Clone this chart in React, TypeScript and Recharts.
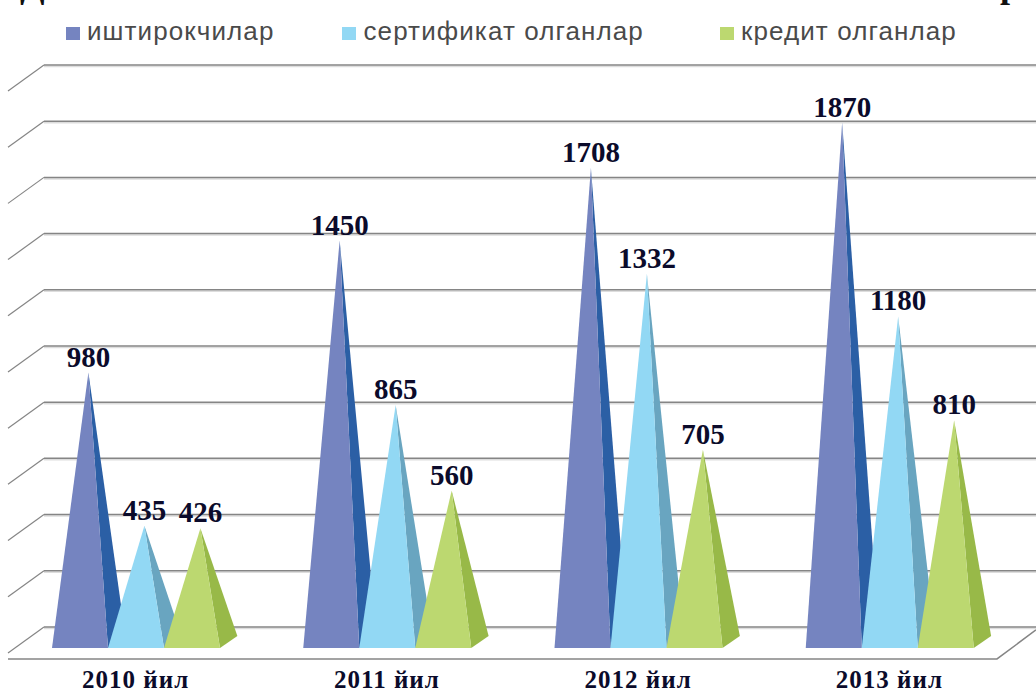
import React from 'react';
import { BarChart, Bar, CartesianGrid, XAxis, YAxis, Legend, LabelList, ReferenceLine } from 'recharts';

const years = ['2010 йил', '2011 йил', '2012 йил', '2013 йил'];
const participants = [980, 1450, 1708, 1870];
const certified = [435, 865, 1332, 1180];
const credited = [426, 560, 705, 810];
const gridTicks = [0, 200, 400, 600, 800, 1000, 1200, 1400, 1600, 1800, 2000];

const data = years.map((year, i) => ({
  year,
  participants: participants[i],
  certified: certified[i],
  credited: credited[i],
}));

const series = [
  { key: 'participants', name: 'иштирокчилар', front: '#7584c0', side: '#2b5fa5', legendGap: 68 },
  { key: 'certified', name: 'сертификат олганлар', front: '#92d8f4', side: '#69a5c0', legendGap: 76 },
  { key: 'credited', name: 'кредит олганлар', front: '#bcd870', side: '#98b948', legendGap: 0 },
];

const serif = '"Liberation Serif", serif';
// bars stand at the front of the 3d floor, the grid is on the back wall
const floorDepth = 21;

// pyramid: flat front face plus a darker right face going back in depth
const Pyramid = ({ x, y, width, height, front, side }: any) => {
  const top = y + floorDepth;
  const base = top + height;
  const apex = x + width * 0.65;
  return (
    <g>
      <polygon points={`${apex},${top} ${x + width},${base} ${x + width * 1.31},${base - 12}`} fill={side} />
      <polygon points={`${apex},${top} ${x},${base} ${x + width},${base}`} fill={front} />
    </g>
  );
};

const PeakLabel = ({ x, y, width, value }: any) => (
  <text
    x={x + width * 0.65}
    y={y + floorDepth - 6}
    textAnchor="middle"
    fontFamily={serif}
    fontWeight="bold"
    fontSize={29}
    fill="#0b0b2b"
  >
    {value}
  </text>
);

// every grid line is the back wall line plus its diagonal on the left side wall
const WallLine = ({ y1 }: any) => (
  <g fill="none">
    <line x1={44} x2={1036} y1={y1 + 1.5} y2={y1 + 1.5} stroke="#dddddd" strokeWidth={1.5} />
    <line x1={44} x2={1036} y1={y1} y2={y1} stroke="#858585" strokeWidth={1.5} />
    <line x1={44} x2={8} y1={y1} y2={y1 + 26} stroke="#858585" strokeWidth={1.2} />
  </g>
);

const FloorEdge = ({ y1 }: any) => (
  <polyline points={`8,${y1 + 32} 997,${y1 + 32} 1036,${y1 + 3}`} fill="none" stroke="#858585" strokeWidth={1.5} />
);

const LegendRow = () => (
  <div style={{ display: 'flex', alignItems: 'center', fontFamily: '"Liberation Sans", sans-serif', fontSize: 26, color: '#4a4a4a', letterSpacing: 1.1, whiteSpace: 'nowrap' }}>
    {series.map((s) => (
      <div key={s.key} style={{ display: 'flex', alignItems: 'center', marginRight: s.legendGap }}>
        <span style={{ width: 14, height: 13, background: s.front, marginRight: 7, marginTop: 3 }} />
        <span>{s.name}</span>
      </div>
    ))}
  </div>
);

const App = () => (
  <div style={{ position: 'absolute', left: 0, top: 0, width: 1036, height: 693, overflow: 'hidden', background: '#fff' }}>
    <div style={{ position: 'absolute', left: 20, top: -36, fontFamily: serif, fontWeight: 'bold', fontSize: 36, color: '#111' }}>Д</div>
    <div style={{ position: 'absolute', left: 1000, top: -36, fontFamily: serif, fontWeight: 'bold', fontSize: 36, color: '#111' }}>р</div>
    <BarChart
      width={1036}
      height={693}
      data={data}
      barSize={56}
      barGap={0}
      margin={{ top: 34, right: 21, bottom: 0, left: 10 }}
      style={{ overflow: 'hidden' }}
    >
      <CartesianGrid
        vertical={false}
        syncWithTicks
        horizontal={(props: any) => <WallLine key={props.index} {...props} />}
      />
      <XAxis
        dataKey="year"
        height={45}
        axisLine={false}
        tickLine={false}
        interval={0}
        tick={{ fontFamily: serif, fontWeight: 'bold', fontSize: 25, fill: '#0b0b2b', dy: 14, letterSpacing: 1 }}
      />
      {/* the original has no value labels; tick stays truthy so the grid still gets the ticks */}
      <YAxis width={0} tick={() => <g />} axisLine={false} tickLine={false} domain={[-75, 2000]} ticks={gridTicks} interval={0} />
      <Legend
        verticalAlign="top"
        align="left"
        content={<LegendRow />}
        wrapperStyle={{ position: 'absolute', left: 66, top: 16, width: 950 }}
      />
      <ReferenceLine y={0} stroke="#858585" shape={<FloorEdge />} />
      {series.map((s) => (
        <Bar
          key={s.key}
          dataKey={s.key}
          name={s.name}
          isAnimationActive={false}
          shape={<Pyramid front={s.front} side={s.side} />}
        >
          <LabelList dataKey={s.key} content={<PeakLabel />} />
        </Bar>
      ))}
    </BarChart>
  </div>
);

export default App;
